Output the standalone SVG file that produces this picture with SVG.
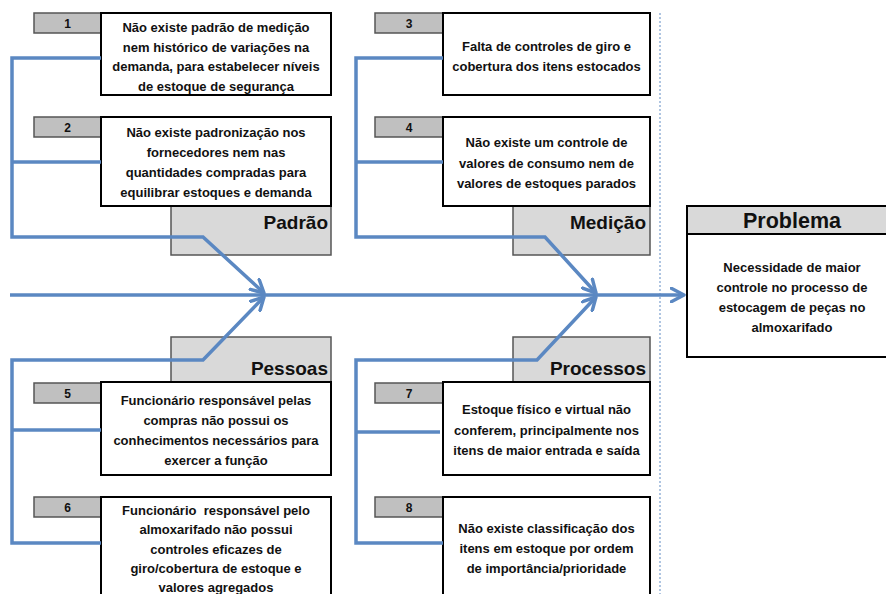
<svg xmlns="http://www.w3.org/2000/svg" width="886" height="594" viewBox="0 0 886 594">
<defs>
<marker id="arr" viewBox="0 0 12 12" refX="10.5" refY="6" markerWidth="16" markerHeight="16" markerUnits="userSpaceOnUse" orient="auto">
<path d="M1,1 L10.5,6 L1,11" fill="none" stroke="#5b88c2" stroke-width="2.6" stroke-linecap="round" stroke-linejoin="round"/>
</marker>
<style>
.lbl{fill:#c0c0c0;stroke:#555;stroke-width:1.5}
.box{fill:#fff;stroke:#000;stroke-width:2}
.cat{fill:#d9d9d9;stroke:#555;stroke-width:1.5}
.t{font-family:"Liberation Sans",Arial,sans-serif;font-weight:bold;font-size:13px;fill:#111;text-anchor:middle}
.n{font-family:"Liberation Sans",Arial,sans-serif;font-weight:bold;font-size:12px;fill:#111;text-anchor:middle}
.c{font-family:"Liberation Sans",Arial,sans-serif;font-weight:bold;font-size:19px;fill:#111;text-anchor:end}
.ln{fill:none;stroke:#5b88c2;stroke-width:3.5}
</style>
</defs>
<rect width="886" height="594" fill="#fff"/>
<line x1="660" y1="13" x2="660" y2="594" stroke="#95b3d7" stroke-width="1.5" stroke-dasharray="2,2"/>

<g id="padrao"><rect class="cat" x="171" y="206" width="160" height="49"/><text class="c" x="328" y="229">Padrão</text></g>
<g id="medicao"><rect class="cat" x="513" y="206" width="137" height="49"/><text class="c" x="646" y="229">Medição</text></g>
<g id="pessoas"><rect class="cat" x="171" y="337" width="160" height="45"/><text class="c" x="328" y="375">Pessoas</text></g>
<g id="processos"><rect class="cat" x="513" y="337" width="137" height="45"/><text class="c" x="646" y="375">Processos</text></g>

<g id="causa1">
<rect class="lbl" x="34" y="13" width="67" height="20"/><text class="n" x="67.5" y="28">1</text>
<rect class="box" x="101" y="13" width="230" height="82"/>
<text class="t" x="216" y="32">Não existe padrão de medição</text>
<text class="t" x="216" y="51.5">nem histórico de variações na</text>
<text class="t" x="216" y="71">demanda, para estabelecer níveis</text>
<text class="t" x="216" y="90.5">de estoque de segurança</text>
</g>
<g id="causa2">
<rect class="lbl" x="34" y="117" width="67" height="20"/><text class="n" x="67.5" y="132">2</text>
<rect class="box" x="101" y="117" width="230" height="89"/>
<text class="t" x="216" y="137">Não existe padronização nos</text>
<text class="t" x="216" y="157">fornecedores nem nas</text>
<text class="t" x="216" y="177">quantidades compradas para</text>
<text class="t" x="216" y="197">equilibrar estoques e demanda</text>
</g>
<g id="causa3">
<rect class="lbl" x="375" y="13" width="68" height="20"/><text class="n" x="409" y="28">3</text>
<rect class="box" x="443" y="13" width="207" height="82"/>
<text class="t" x="546.5" y="51">Falta de controles de giro e</text>
<text class="t" x="546.5" y="71">cobertura dos itens estocados</text>
</g>
<g id="causa4">
<rect class="lbl" x="375" y="117" width="68" height="20"/><text class="n" x="409" y="132">4</text>
<rect class="box" x="443" y="117" width="207" height="89"/>
<text class="t" x="546.5" y="147">Não existe um controle de</text>
<text class="t" x="546.5" y="167.5">valores de consumo nem de</text>
<text class="t" x="546.5" y="188">valores de estoques parados</text>
</g>
<g id="causa5">
<rect class="lbl" x="34" y="383" width="67" height="20"/><text class="n" x="67.5" y="398">5</text>
<rect class="box" x="101" y="382" width="230" height="93"/>
<text class="t" x="216" y="405">Funcionário responsável pelas</text>
<text class="t" x="216" y="425">compras não possui os</text>
<text class="t" x="216" y="445">conhecimentos necessários para</text>
<text class="t" x="216" y="465">exercer a função</text>
</g>
<g id="causa6">
<rect class="lbl" x="34" y="497" width="67" height="20"/><text class="n" x="67.5" y="512">6</text>
<rect class="box" x="101" y="497" width="230" height="110"/>
<text class="t" x="216" y="515" xml:space="preserve">Funcionário  responsável pelo</text>
<text class="t" x="216" y="534">almoxarifado não possui</text>
<text class="t" x="216" y="553.5">controles eficazes de</text>
<text class="t" x="216" y="573">giro/cobertura de estoque e</text>
<text class="t" x="216" y="591.5">valores agregados</text>
</g>
<g id="causa7">
<rect class="lbl" x="375" y="383" width="68" height="20"/><text class="n" x="409" y="398">7</text>
<rect class="box" x="443" y="382" width="207" height="93"/>
<text class="t" x="546.5" y="414">Estoque físico e virtual não</text>
<text class="t" x="546.5" y="434.5">conferem, principalmente nos</text>
<text class="t" x="546.5" y="455">itens de maior entrada e saída</text>
</g>
<g id="causa8">
<rect class="lbl" x="375" y="497" width="68" height="20"/><text class="n" x="409" y="512">8</text>
<rect class="box" x="443" y="497" width="207" height="110"/>
<text class="t" x="546.5" y="533">Não existe classificação dos</text>
<text class="t" x="546.5" y="553">itens em estoque por ordem</text>
<text class="t" x="546.5" y="573">de importância/prioridade</text>
</g>
<g id="problema">
<rect x="687" y="206" width="210" height="151" fill="#fff" stroke="#000" stroke-width="2"/>
<rect x="687" y="206" width="210" height="28" fill="#d9d9d9" stroke="#000" stroke-width="2"/>
<text x="792" y="228" font-family="'Liberation Sans',Arial,sans-serif" font-weight="bold" font-size="21.5" fill="#111" text-anchor="middle">Problema</text>
<text class="t" x="792" y="272">Necessidade de maior</text>
<text class="t" x="792" y="292">controle no processo de</text>
<text class="t" x="792" y="312">estocagem de peças no</text>
<text class="t" x="792" y="332">almoxarifado</text>
</g>

<g id="connectors">
<path class="ln" d="M10,295 H684" marker-end="url(#arr)"/>
<path class="ln" d="M101,58 H12 V237 H203 L264,293" marker-end="url(#arr)"/>
<path class="ln" d="M12,162 H101"/>
<path class="ln" d="M101,543 H12 V360 H203 L264,297" marker-end="url(#arr)"/>
<path class="ln" d="M12,430 H101"/>
<path class="ln" d="M443,58 H356 V237 H545 L596,293" marker-end="url(#arr)"/>
<path class="ln" d="M356,162 H443"/>
<path class="ln" d="M443,543 H356 V360 H537 L596,297" marker-end="url(#arr)"/>
<path class="ln" d="M356,432 H440"/>
</g>
</svg>
